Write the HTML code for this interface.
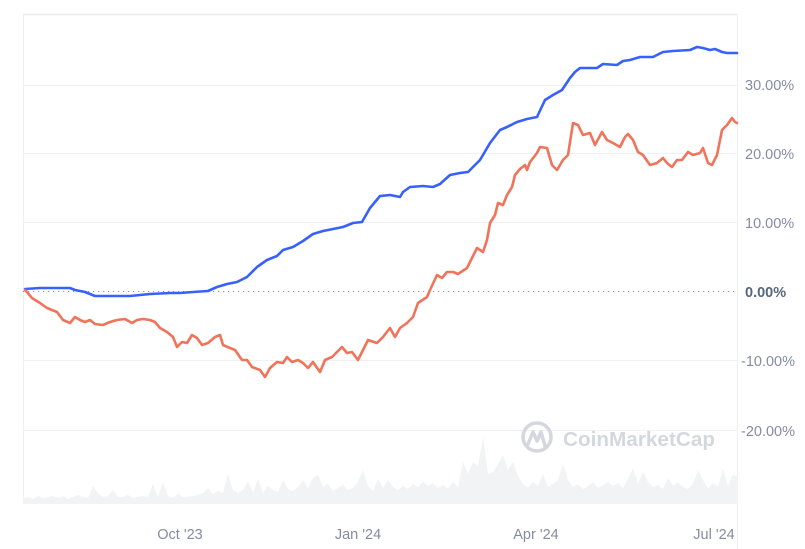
<!DOCTYPE html>
<html><head><meta charset="utf-8"><style>
html,body{margin:0;padding:0;background:#fff;}
svg{display:block;}
text{font-family:"Liberation Sans",Arial,sans-serif;}
</style></head><body>
<svg width="805" height="549" viewBox="0 0 805 549" xmlns="http://www.w3.org/2000/svg">
<rect width="805" height="549" fill="#fff"/>
<!-- frame -->
<line x1="23" y1="14.5" x2="738" y2="14.5" stroke="#e8ebef" stroke-width="1.5"/>
<line x1="23.5" y1="14" x2="23.5" y2="504" stroke="#eef0f3" stroke-width="1"/>
<line x1="737.5" y1="14" x2="737.5" y2="549" stroke="#eef0f3" stroke-width="1"/>
<!-- grid -->
<g stroke="#eff1f4" stroke-width="1">
<line x1="23" y1="85.5" x2="738" y2="85.5"/>
<line x1="23" y1="153.5" x2="738" y2="153.5"/>
<line x1="23" y1="222.5" x2="738" y2="222.5"/>
<line x1="23" y1="360.5" x2="738" y2="360.5"/>
<line x1="23" y1="430.5" x2="738" y2="430.5"/>
</g>
<line x1="23" y1="291.5" x2="738" y2="291.5" stroke="#8a929f" stroke-width="1" stroke-dasharray="1.2,3.8"/>
<!-- volume -->
<polygon fill="#f1f3f5" points="23,504 23,498 28,497 33,499 38,496 43,498 48,497 53,496 58,498 63,496 68,499 73,497 78,495 83,497 88,498 93,486 98,493 103,497 108,496 113,490 118,497 123,497 128,495 133,498 138,497 143,496 148,497 153,484 158,497 163,482 168,496 173,498 178,494 183,497 188,497 193,496 198,495 203,493 208,488 213,494 218,491 223,493 228,474 233,490 238,493 243,490 248,482 253,492 258,479 263,493 268,486 273,490 278,492 283,480 288,489 293,491 298,487 303,480 308,488 313,478 318,475 323,487 328,484 333,491 338,488 343,485 348,490 353,488 358,482 363,470 368,486 373,491 378,479 383,488 388,480 393,487 398,490 403,486 408,489 413,484 418,487 423,482 428,486 433,483 438,488 443,485 448,489 453,482 458,487 463,462 468,474 473,462 478,466 483,437 488,474 493,472 498,464 503,455 508,470 513,462 518,476 523,484 528,488 533,482 538,486 543,474 548,487 553,484 558,480 563,464 568,480 573,487 578,484 583,489 588,486 593,482 598,488 603,485 608,482 613,486 618,483 623,488 628,479 633,468 638,484 643,472 648,482 653,487 658,485 663,489 668,478 673,486 678,482 683,487 688,489 693,484 698,470 703,480 708,488 713,483 718,487 723,469 728,486 733,474 738,478 738,504"/>
<!-- watermark -->
<g>
<circle cx="537" cy="437" r="14" fill="none" stroke="#d4d8de" stroke-width="3.5"/>
<polyline points="528,444 533,432 537,441 541,432 545,446" fill="none" stroke="#d4d8de" stroke-width="3.5" stroke-linejoin="round" stroke-linecap="round"/>
<text x="563" y="446" font-size="20.5" font-weight="bold" fill="#d4d8de" textLength="152" lengthAdjust="spacingAndGlyphs">CoinMarketCap</text>
</g>
<!-- blue line -->
<polyline fill="none" stroke="#3861fb" stroke-width="2.6" stroke-linejoin="round" stroke-linecap="round" points="25,289 40,288 60,288 70,288 75,290 85,292 95,296 110,296 130,296 150,294 170,293 180,293 193,292 208,291 217,287 227,284 237,282 247,277 257,267 267,260 277,256 283,250 293,247 303,241 313,234 323,231 333,229 343,227 353,223 362,222 370,208 380,196 390,195 400,197 403,192 410,187 423,186 433,187 440,184 450,175 460,173 468,172 480,160 490,143 500,130 507,127 517,122 527,119 537,117 545,100 553,95 562,90 570,78 575,72 580,68 597,68 603,64 617,65 623,61 630,60 640,57 653,57 663,52 673,51 690,50 697,47 703,48 710,50 715,49 722,52 727,53 737,53"/>
<!-- red line -->
<polyline fill="none" stroke="#f0735a" stroke-width="2.6" stroke-linejoin="round" stroke-linecap="round" points="25,290 27,292 32,298 40,303 47,308 57,312 63,320 70,323 75,317 80,320 85,322 90,320 95,324 103,325 110,322 117,320 125,319 132,323 137,320 143,319 150,320 155,322 160,328 167,332 173,337 177,347 182,342 187,343 192,335 197,338 202,345 208,343 215,337 220,335 223,345 230,348 235,350 242,360 247,360 252,367 260,370 265,377 270,368 277,362 283,363 287,357 292,362 298,360 303,363 308,368 313,362 320,372 325,360 332,357 337,352 342,347 347,353 352,352 358,360 363,350 368,340 377,343 383,337 390,328 395,337 400,328 407,323 413,317 418,303 427,297 430,290 437,275 442,278 447,272 453,272 458,274 467,268 472,258 477,248 483,252 487,240 490,223 495,215 498,203 503,205 507,195 512,187 515,175 520,169 525,165 527,170 530,162 537,153 540,147 547,148 552,165 557,170 563,160 568,155 573,123 578,125 583,135 590,133 595,145 602,132 607,140 613,143 620,147 625,137 628,134 633,140 638,152 643,155 650,165 657,163 663,158 667,163 672,167 677,160 682,160 688,152 693,155 700,153 703,148 708,163 712,165 717,155 722,130 727,125 732,118 735,122 737,123"/>
<!-- y labels -->
<g font-size="14.5" fill="#858ca2">
<text x="745" y="90">30.00%</text>
<text x="745" y="159">20.00%</text>
<text x="745" y="228">10.00%</text>
<text x="745" y="297" font-weight="bold" fill="#58667e">0.00%</text>
<text x="741" y="366">-10.00%</text>
<text x="741" y="436">-20.00%</text>
</g>
<!-- x labels -->
<g font-size="14.5" fill="#858ca2" text-anchor="middle">
<text x="180" y="539">Oct '23</text>
<text x="358" y="539">Jan '24</text>
<text x="536" y="539">Apr '24</text>
<text x="714" y="539">Jul '24</text>
</g>
</svg>
</body></html>
